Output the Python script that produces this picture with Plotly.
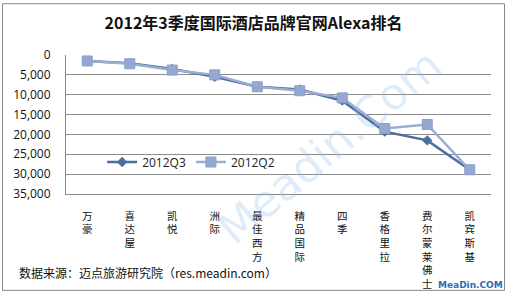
import plotly.graph_objects as go

categories = ["万豪", "喜达屋", "凯悦", "洲际", "最佳西方", "精品国际", "四季", "香格里拉", "费尔蒙莱佛士", "凯宾斯基"]
q3_values = [1500, 2100, 3500, 5500, 8000, 8700, 11500, 19300, 21500, 28900]
q2_values = [1500, 2200, 3800, 5000, 8000, 9000, 10800, 18500, 17500, 28900]
y_ticks = [0, 5000, 10000, 15000, 20000, 25000, 30000, 35000]

tick_text = ["<br>".join(list(c)) for c in categories]

fig = go.Figure()
fig.add_trace(go.Scatter(
    x=categories, y=q3_values, name="2012Q3", mode="lines+markers",
    line=dict(color="#4A6E9F", width=2.5),
    marker=dict(symbol="diamond", size=8, color="#4A6E9F"),
))
fig.add_trace(go.Scatter(
    x=categories, y=q2_values, name="2012Q2", mode="lines+markers",
    line=dict(color="#9AAED4", width=2.5),
    marker=dict(symbol="square", size=10, color="#94A8D2", line=dict(color="#8A9FCB", width=1)),
))

font_cn = "Noto Sans CJK SC, sans-serif"

fig.update_layout(
    width=507, height=303,
    margin=dict(l=66, r=16, t=55, b=103),
    paper_bgcolor="white", plot_bgcolor="white",
    showlegend=True,
    legend=dict(orientation="h", x=0.085, y=0.23, xanchor="left", yanchor="middle",
                bgcolor="rgba(0,0,0,0)", font=dict(family="Segoe UI, Open Sans, sans-serif", size=12, color="#222"),
                itemwidth=30, tracegroupgap=0),
    title=dict(text="<b>2012年3季度国际酒店品牌官网Alexa排名</b>", x=0.5, xref="container", y=1 - 23 / 303,
               yref="container", xanchor="center", yanchor="middle",
               font=dict(family=font_cn, size=16, color="#111")),
    font=dict(family=font_cn),
)
fig.update_xaxes(
    type="category", tickmode="array", tickvals=categories, ticktext=tick_text,
    tickangle=0, ticks="", ticklabelstandoff=12,
    showline=True, linecolor="#888", linewidth=1, showgrid=False,
    tickfont=dict(family=font_cn, size=10.5, color="#111"), range=[-0.5, 9.5],
)
fig.update_yaxes(
    range=[35000, 0], tickmode="array", tickvals=y_ticks, tickformat=",d",
    showgrid=True, gridcolor="#8c8c8c", gridwidth=1,
    showline=True, linecolor="#888", linewidth=1, zeroline=False,
    tickfont=dict(family="Segoe UI, Open Sans, sans-serif", size=12, color="#111"),
    ticks="", ticklabelstandoff=12,
)

pw = 507 - 66 - 16
ph = 303 - 55 - 103
def px(x):
    return (x - 66) / pw
def py(y):
    return (303 - 103 - y) / ph

# watermark
fig.add_annotation(text="Meadin.Com", x=px(205), y=py(150), xref="paper", yref="paper", showarrow=False,
                   textangle=-40, font=dict(family="Verdana, DejaVu Sans, sans-serif", size=44, color="rgba(140,190,240,0.28)"))
# source
fig.add_annotation(text="数据来源：迈点旅游研究院（res.meadin.com）", x=px(17), y=py(282), xref="paper", yref="paper",
                   showarrow=False, xanchor="left", yanchor="middle",
                   font=dict(family=font_cn, size=12, color="#111"))
fig.add_annotation(text="<b>MeaDin.COM</b>", x=px(505), y=py(302), xref="paper", yref="paper", showarrow=False,
                   xanchor="right", yanchor="bottom", font=dict(family="Verdana, DejaVu Sans, sans-serif", size=9, color="#2a6db5"))
# outer border
fig.add_shape(type="rect", xref="paper", yref="paper", x0=px(2.5), y0=py(300.5), x1=px(504.5), y1=py(1.5),
              line=dict(color="#888", width=1))

fig.write_html("out.html")
